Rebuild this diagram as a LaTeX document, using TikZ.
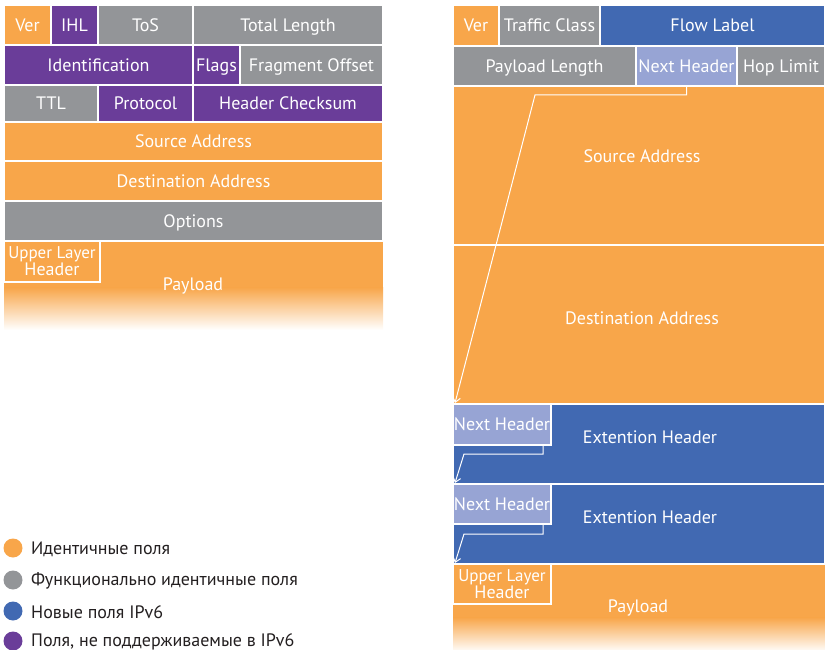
\documentclass[tikz,border=0pt]{standalone}
\usepackage{fontspec}
\setmainfont{PT Sans}
\usetikzlibrary{arrows.meta}
\definecolor{cOr}{RGB}{248,166,74}
\definecolor{cGr}{RGB}{147,149,152}
\definecolor{cPu}{RGB}{106,61,153}
\definecolor{cBl}{RGB}{65,105,178}
\definecolor{cLb}{RGB}{151,164,212}
\definecolor{cTx}{RGB}{35,31,32}
\tikzset{
  cell/.style={draw=white, line width=1.2pt, inner sep=0pt, outer sep=0pt, anchor=north west,
    text=white, font=\fontsize{18}{18}\selectfont, align=center},
  lbl/.style={text=white, font=\fontsize{18}{18}\selectfont, inner sep=0pt},
  arr/.style={draw=white, line width=1pt, -{Straight Barb[length=5pt,width=8pt]}},
  legdot/.style={circle, minimum size=19pt, inner sep=0pt},
  legtxt/.style={anchor=west, text=cTx, font=\fontsize{18}{18}\selectfont, inner sep=0pt}
}
% \cellbox{name}{x1}{y1}{x2}{y2}{colour}{text}
\newcommand{\cellbox}[7]{\node[cell, fill=#6, text depth=0pt, minimum width={(#4-#2)*1pt}, minimum height={(#5-#3)*1pt}] (#1) at (#2,#3) {\vphantom{T}#7};}
\newcommand{\ulhtext}{\fontsize{17}{16}\selectfont Upper Layer\\[-1pt]Header}
\begin{document}
\begin{tikzpicture}[x=1pt,y=-1pt]
\useasboundingbox (0,0) rectangle (825,650);
% ---------------- IPv4 ----------------
\cellbox{ver4}{4}{5}{51}{45}{cOr}{Ver}
\cellbox{ihl}{51}{5}{98}{45}{cPu}{IHL}
\cellbox{tos}{98}{5}{193}{45}{cGr}{ToS}
\cellbox{tlen}{193}{5}{383}{45}{cGr}{Total Length}
\cellbox{ident}{4}{45}{193}{85}{cPu}{Identification}
\cellbox{flags}{193}{45}{240}{85}{cPu}{Flags}
\cellbox{frag}{240}{45}{383}{85}{cGr}{Fragment Offset}
\cellbox{ttl}{4}{85}{98}{122}{cGr}{TTL}
\cellbox{proto}{98}{85}{193}{122}{cPu}{Protocol}
\cellbox{hcs}{193}{85}{383}{122}{cPu}{Header Checksum}
\cellbox{src4}{4}{122}{383}{161}{cOr}{Source Address}
\cellbox{dst4}{4}{161}{383}{201}{cOr}{Destination Address}
\cellbox{opt}{4}{201}{383}{241}{cGr}{Options}
% payload v4
\fill[cOr] (4,241) rectangle (383,288);
\shade[top color=cOr, bottom color=white] (4,287.5) rectangle (383,330);
\draw[white, line width=1.2pt] (4,241) -- (383,241);
\node[lbl] (pay4) at (193,286) {Payload};
\node[cell, fill=cOr, minimum width=96pt, minimum height=41pt] (ulh4) at (4,241) {\ulhtext};
% ---------------- IPv6 ----------------
\cellbox{ver6}{453}{5}{499}{46}{cOr}{Ver}
\cellbox{tc}{499}{5}{600}{46}{cGr}{Traffic Class}
\cellbox{flow}{600}{5}{825}{46}{cBl}{Flow Label}
\cellbox{plen}{453}{46}{636}{86}{cGr}{Payload Length}
\cellbox{nh}{636}{46}{737}{86}{cLb}{Next Header}
\cellbox{hop}{737}{46}{825}{86}{cGr}{Hop Limit}
\cellbox{src6}{453}{86}{825}{245}{cOr}{}
\node[lbl] at (642,156) {Source Address};
\cellbox{dst6}{453}{245}{825}{404}{cOr}{}
\node[lbl] at (642,318) {Destination Address};
\cellbox{ext1}{453}{404}{825}{484}{cBl}{}
\node[lbl] at (650,437) {Extention Header};
\cellbox{nh1}{453}{404}{551}{445}{cLb}{Next Header}
\cellbox{ext2}{453}{484}{825}{564}{cBl}{}
\node[lbl] at (650,517) {Extention Header};
\cellbox{nh2}{453}{484}{551}{524}{cLb}{Next Header}
% payload v6
\fill[cOr] (453,564) rectangle (825,618);
\shade[top color=cOr, bottom color=white] (453,617.5) rectangle (825,652);
\draw[white, line width=1.2pt] (453,564) -- (825,564);
\node[lbl] (pay6) at (638,608) {Payload};
\node[cell, fill=cOr, minimum width=98pt, minimum height=40pt] (ulh6) at (453,564) {\ulhtext};
% arrows
\coordinate (a1) at (535,95);
\coordinate (b1) at (464,454);
\coordinate (c1) at (464,534);
\draw[arr] (nh.south) |- (a1) -- ([xshift=2pt,yshift=1pt]dst6.south west);
\draw[arr] ([xshift=-8pt]nh1.south east) |- (b1) -- ([xshift=2pt,yshift=1pt]ext1.south west);
\draw[arr] ([xshift=-8pt]nh2.south east) |- (c1) -- ([xshift=2pt,yshift=1pt]ext2.south west);
% legend
\node[legdot, fill=cOr] (d1) at (13,548) {};
\node[legtxt] (t1) at (31,549) {Идентичные поля};
\node[legdot, fill=cGr] (d2) at (13,580) {};
\node[legtxt] (t2) at (31,581) {Функционально идентичные поля};
\node[legdot, fill=cBl] (d3) at (13,611) {};
\node[legtxt] (t3) at (31,612) {Новые поля IPv6};
\node[legdot, fill=cPu] (d4) at (13,641) {};
\node[legtxt] (t4) at (31,642) {Поля, не поддерживаемые в IPv6};
\end{tikzpicture}
\end{document}
